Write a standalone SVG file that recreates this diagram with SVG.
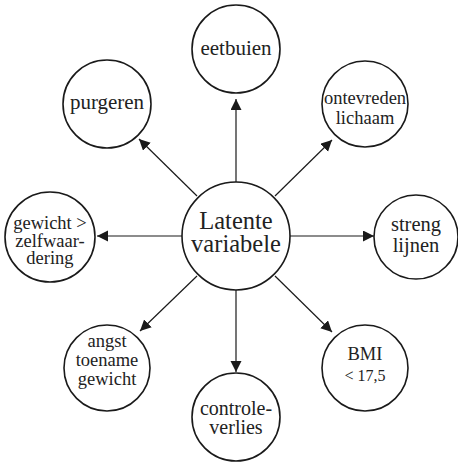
<svg xmlns="http://www.w3.org/2000/svg" width="458" height="463" viewBox="0 0 458 463">
<style>
.n circle{fill:#fff;stroke:#1a1a1a;stroke-width:1.6}
.n text{font-family:"Liberation Serif","Times New Roman",serif;fill:#222;text-anchor:middle}
.c line{stroke:#1a1a1a;stroke-width:1.2;marker-end:url(#ah)}
</style>
<defs>
<marker id="ah" markerUnits="userSpaceOnUse" markerWidth="12" markerHeight="12" refX="11" refY="5.5" orient="auto">
<path d="M0,0 L11,5.5 L0,11 z" fill="#1a1a1a"/>
</marker>
</defs>
<g class="c" id="connectors">
<line x1="236" y1="182" x2="236" y2="99"/>
<line x1="236" y1="290" x2="236" y2="372"/>
<line x1="182" y1="236" x2="97" y2="236"/>
<line x1="290" y1="236" x2="374" y2="236"/>
<line x1="197" y1="196" x2="139" y2="139"/>
<line x1="275" y1="196" x2="332" y2="140"/>
<line x1="275" y1="276" x2="332" y2="332"/>
<line x1="197" y1="276" x2="140" y2="331"/>
</g>
<g class="n" id="latente">
<circle cx="236" cy="236" r="54"/>
<text x="236" y="228.5" font-size="24.5">Latente</text>
<text x="236" y="251.5" font-size="24.5">variabele</text>
</g>
<g class="n" id="eetbuien">
<circle cx="236" cy="49" r="44"/>
<text x="236" y="55" font-size="21">eetbuien</text>
</g>
<g class="n" id="purgeren">
<circle cx="107" cy="104" r="44"/>
<text x="107" y="109" font-size="21">purgeren</text>
</g>
<g class="n" id="ontevreden">
<circle cx="365" cy="104" r="43"/>
<text x="365" y="104" font-size="18.5">ontevreden</text>
<text x="365" y="124" font-size="18.5">lichaam</text>
</g>
<g class="n" id="gewicht">
<circle cx="50" cy="237" r="45"/>
<text x="50" y="228.5" font-size="18.5">gewicht &gt;</text>
<text x="50" y="246.5" font-size="18.5">zelfwaar-</text>
<text x="50" y="264" font-size="18.5">dering</text>
</g>
<g class="n" id="streng">
<circle cx="416" cy="237" r="42"/>
<text x="416" y="231" font-size="20.5">streng</text>
<text x="416" y="252" font-size="20.5">lijnen</text>
</g>
<g class="n" id="angst">
<circle cx="107" cy="368" r="43"/>
<text x="107" y="347" font-size="18.5">angst</text>
<text x="107" y="366" font-size="18.5">toename</text>
<text x="107" y="385" font-size="18.5">gewicht</text>
</g>
<g class="n" id="controle">
<circle cx="236" cy="417" r="44"/>
<text x="236" y="415" font-size="20">controle-</text>
<text x="236" y="434" font-size="20">verlies</text>
</g>
<g class="n" id="bmi">
<circle cx="365" cy="368" r="43"/>
<text x="365" y="360" font-size="18.5">BMI</text>
<text x="365" y="381" font-size="16">&lt; 17,5</text>
</g>
</svg>
